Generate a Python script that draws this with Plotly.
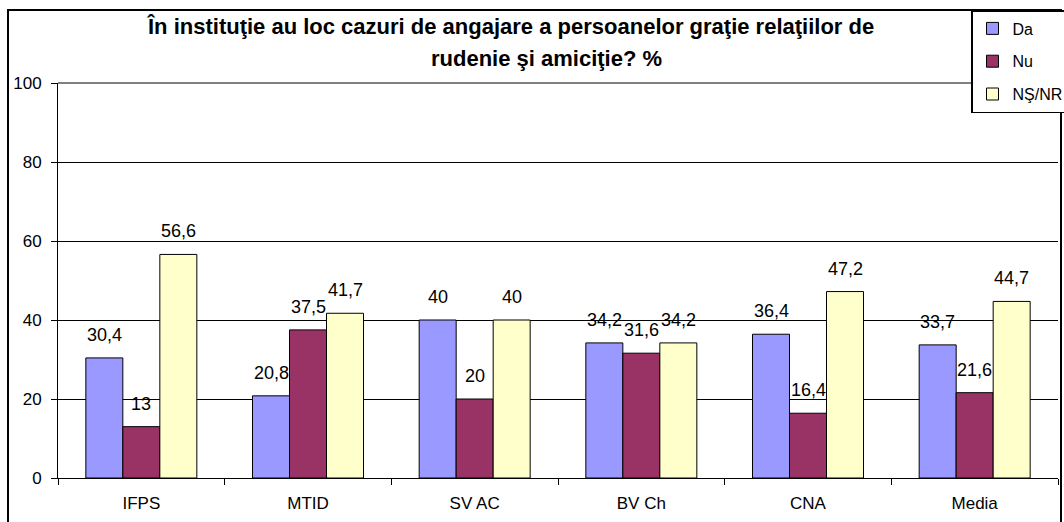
import plotly.graph_objects as go

categories = ["IFPS", "MTID", "SV AC", "BV Ch", "CNA", "Media"]
da = [30.4, 20.8, 40, 34.2, 36.4, 33.7]
nu = [13, 37.5, 20, 31.6, 16.4, 21.6]
ns_nr = [56.6, 41.7, 40, 34.2, 47.2, 44.7]
series_names = ["Da", "Nu", "NŞ/NR"]
colors = ["#9999FF", "#993366", "#FFFFCC"]
y_ticks = [0, 20, 40, 60, 80, 100]
title_line1 = "În instituţie au loc cazuri de angajare a persoanelor graţie relaţiilor de"
title_line2 = "rudenie şi amiciţie? %"

FONT = "Liberation Sans, Arial, sans-serif"

def fmt(v):
    return f"{v:g}".replace(".", ",")

W, H = 1064, 522
L, R, T, B = 58, 6, 83, 44
pw, ph = W - L - R, H - T - B

def px_x(x):
    return (x - L) / pw

def px_y(y):
    return (H - B - y) / ph

fig = go.Figure()
all_series = [da, nu, ns_nr]
for name, vals, col in zip(series_names, all_series, colors):
    fig.add_trace(go.Bar(
        x=categories, y=vals, name=name,
        marker=dict(color=col, line=dict(color="black", width=1)),
        legendgroup=name,
    ))

# data labels
offsets = [-37, 0, 37]
for vals, off in zip(all_series, offsets):
    for c, v in zip(categories, vals):
        fig.add_annotation(
            x=c, y=v, xref="x", yref="y", text=fmt(v), showarrow=False,
            xshift=off, yshift=23, yanchor="middle",
            font=dict(family=FONT, size=18, color="black"),
        )

# title
fig.add_annotation(x=px_x(510), y=px_y(27), xref="paper", yref="paper",
                   text=f"<b>{title_line1}</b>", showarrow=False,
                   xanchor="center", yanchor="middle",
                   font=dict(family=FONT, size=22, color="black"))
fig.add_annotation(x=px_x(546), y=px_y(58), xref="paper", yref="paper",
                   text=f"<b>{title_line2}</b>", showarrow=False,
                   xanchor="center", yanchor="middle",
                   font=dict(family=FONT, size=22, color="black"))

# outer border
fig.add_shape(type="rect", xref="paper", yref="paper",
              x0=px_x(8), x1=px_x(1061), y0=px_y(540), y1=px_y(10),
              line=dict(color="black", width=2), layer="below")
# top plot border (gray)
fig.add_shape(type="line", xref="paper", yref="paper",
              x0=0, x1=1, y0=1, y1=1,
              line=dict(color="#808080", width=2), layer="above")

fig.update_layout(
    width=W, height=H,
    margin=dict(l=L, r=R, t=T, b=B, autoexpand=False),
    paper_bgcolor="white", plot_bgcolor="white",
    barmode="group", bargap=0.334, bargroupgap=0,
    font=dict(family=FONT, size=17, color="black"),
    showlegend=True,
    legend=dict(
        x=px_x(971), y=px_y(10), xanchor="left", yanchor="top",
        bgcolor="white", bordercolor="black", borderwidth=1.5,
        font=dict(family=FONT, size=16, color="black"),
        tracegroupgap=9, itemwidth=30,
    ),
    xaxis=dict(
        showline=True, linecolor="black", linewidth=1,
        ticks="outside", tickson="boundaries", ticklen=6, tickcolor="black",
        tickfont=dict(family=FONT, size=17, color="black"),
        ticklabelstandoff=10,
        showgrid=False,
    ),
    yaxis=dict(
        range=[0, 100], tickvals=y_ticks,
        showline=True, linecolor="black", linewidth=1,
        ticks="outside", ticklen=6, tickcolor="black",
        ticklabelstandoff=6,
        showgrid=True, gridcolor="black", gridwidth=1,
        zeroline=False,
        tickfont=dict(family=FONT, size=17, color="black"),
    ),
)

fig.write_html("out.html",
               config={"displayModeBar": False},
               post_script="document.body.style.margin='0';document.body.style.padding='0';")
